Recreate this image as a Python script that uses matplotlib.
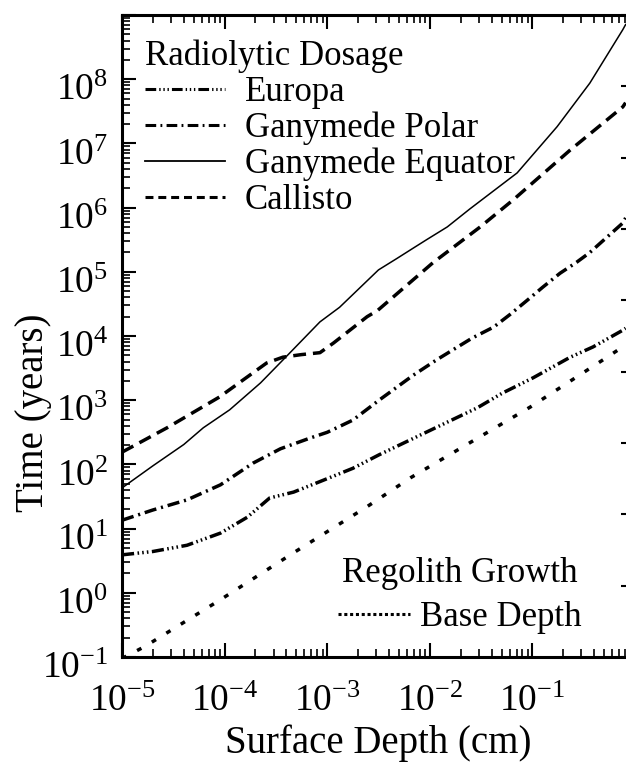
import matplotlib
matplotlib.use("Agg")
import matplotlib.pyplot as plt
from matplotlib.lines import Line2D
from matplotlib.transforms import ScaledTranslation
from matplotlib.ticker import LogLocator, NullFormatter, FixedLocator, FixedFormatter

plt.rcParams['font.family'] = ['Liberation Serif', 'DejaVu Serif']
plt.rcParams['mathtext.fontset'] = 'custom'
plt.rcParams['mathtext.rm'] = 'Liberation Serif'
plt.rcParams['mathtext.it'] = 'Liberation Serif:italic'

# surface depth (cm) and time (years)
europa_x = [1e-5, 2e-5, 4.3e-5, 9.1e-5, 1.66e-4, 2.75e-4, 4.7e-4, 8.5e-4, 1.78e-3, 3.2e-3,
            1.17e-2, 2.9e-2, 5.1e-2, 0.102, 0.234, 0.39, 0.76, 0.81]
europa_y = [3.9, 4.4, 5.5, 8.5, 15, 30, 37, 54, 87, 141,
            380, 760, 1290, 2240, 4680, 6760, 1.23e4, 1.32e4]

polar_x = [1e-5, 2e-5, 4.3e-5, 9.1e-5, 1.9e-4, 3.5e-4, 6.8e-4, 1.0e-3, 1.78e-3, 3.2e-3, 6.9e-3,
           1.17e-2, 2.6e-2, 4.2e-2, 6.0e-2, 8.9e-2, 0.126, 0.186, 0.27, 0.363, 0.76, 0.81]
polar_y = [13.5, 19.5, 28, 48, 105, 175, 257, 316, 490, 1000, 2450,
           4270, 9330, 1.38e4, 2.14e4, 3.6e4, 5.75e4, 9.5e4, 1.41e5, 2.0e5, 5.75e5, 6.9e5]

equator_x = [1e-5, 2e-5, 4e-5, 6.2e-5, 1.12e-4, 2.24e-4, 4.1e-4, 8.5e-4, 1.32e-3, 3.16e-3,
             4.8e-3, 6.9e-3, 9.3e-3, 1.48e-2, 2.45e-2, 7.1e-2, 0.174, 0.363, 0.76, 0.81]
equator_y = [43, 95, 204, 372, 708, 1860, 5000, 1.66e4, 2.8e4, 1.07e5,
             1.62e5, 2.34e5, 3.16e5, 5.0e5, 9.5e5, 3.47e6, 1.82e7, 8.7e7, 5.9e8, 7.1e8]

callisto_x = [1e-5, 2.75e-5, 8.9e-5, 2.57e-4, 3.7e-4, 5.6e-4, 8.5e-4, 1.15e-3, 2.45e-3, 3.1e-3,
              1.07e-2, 3.1e-2, 6.5e-2, 0.234, 0.76, 0.81]
callisto_y = [155, 372, 1120, 3800, 4680, 5130, 5500, 7760, 2.0e4, 2.5e4,
              1.38e5, 5.0e5, 1.32e6, 7.9e6, 3.7e7, 4.3e7]

base_x = [1e-5, 1.66e-5, 9.1e-5, 4.7e-4, 2.45e-3, 6.5e-3, 9.5e-2, 0.49, 0.81]
base_y = [0.095, 0.145, 0.78, 4.2, 22, 62, 780, 4270, 7240]

xticks = [1e-5, 1e-4, 1e-3, 1e-2, 1e-1, 1e0]
xlabels = [r'$10^{-5}$', r'$10^{-4}$', r'$10^{-3}$', r'$10^{-2}$', r'$10^{-1}$', '']
yticks = [1e-1, 1e0, 1e1, 1e2, 1e3, 1e4, 1e5, 1e6, 1e7, 1e8, 1e9]
ylabels = [r'$10^{-1}$', r'$10^{0}$', r'$10^{1}$', r'$10^{2}$', r'$10^{3}$', r'$10^{4}$',
           r'$10^{5}$', r'$10^{6}$', r'$10^{7}$', r'$10^{8}$', '']

europa_dash = (3.5, 1.0, 0.45, 0.9, 0.45, 0.9, 0.45, 1.0)
polar_dash = (3.5, 1.4, 0.6, 1.4)
callisto_dash = (3.7, 2.0)
base_dash = (1.4, 3.5)

fig = plt.figure(figsize=(6.26, 7.62), dpi=100)
ax = fig.add_axes([122/626, 105/762, 513/626, 642/762])

ax.plot(europa_x, europa_y, color='k', lw=2.5, dashes=europa_dash)
ax.plot(polar_x, polar_y, color='k', lw=2.5, dashes=polar_dash)
ax.plot(equator_x, equator_y, color='k', lw=1.1)
ax.plot(callisto_x, callisto_y, color='k', lw=2.5, dashes=callisto_dash)
ax.plot(base_x, base_y, color='k', lw=2.5, dashes=base_dash)

ax.set_xscale('log')
ax.set_yscale('log')
ax.set_xlim(1e-5, 1e0)
ax.set_ylim(1e-1, 1e9)

ax.xaxis.set_major_locator(FixedLocator(xticks))
ax.xaxis.set_major_formatter(FixedFormatter(xlabels))
ax.yaxis.set_major_locator(FixedLocator(yticks))
ax.yaxis.set_major_formatter(FixedFormatter(ylabels))
ax.xaxis.set_minor_locator(LogLocator(base=10, subs=range(2, 10), numticks=20))
ax.yaxis.set_minor_locator(LogLocator(base=10, subs=range(2, 10), numticks=20))
ax.xaxis.set_minor_formatter(NullFormatter())
ax.yaxis.set_minor_formatter(NullFormatter())

ax.tick_params(which='both', direction='in', top=True, right=False)
ax.tick_params(which='major', length=10, width=1.5, labelsize=27)
ax.tick_params(which='minor', length=5.5, width=1.2)
ax.tick_params(axis='x', which='major', pad=20)
ax.tick_params(axis='y', which='major', pad=10)
for s in ax.spines.values():
    s.set_linewidth(2.2)

# y tick labels sit a little below their ticks in the original
shift = ScaledTranslation(0, -8/100, fig.dpi_scale_trans)
for lab in ax.get_yticklabels():
    lab.set_transform(lab.get_transform() + shift)

# right-hand scale, labels fall outside the cropped figure
ax2 = ax.twinx()
ax2.set_yscale('log')
ax2.set_ylim(1e0, 1e9)
ax2.tick_params(which='both', direction='in', labelright=False)
ax2.tick_params(which='major', length=10, width=1.5)
ax2.tick_params(which='minor', length=5.5, width=1.2)

ax.set_xlabel('Surface Depth (cm)', fontsize=28)
ax.set_ylabel('Time (years)', fontsize=28)
ax.xaxis.set_label_coords(0.5, -0.105)
ax.yaxis.set_label_coords(-0.137, 0.38)

h1 = [Line2D([], [], color='k', lw=2.2, dashes=europa_dash),
      Line2D([], [], color='k', lw=2.2, dashes=polar_dash),
      Line2D([], [], color='k', lw=1.3),
      Line2D([], [], color='k', lw=2.2, dashes=(2.6, 1.6))]
leg1 = ax.legend(h1, ['Europa', 'Ganymede Polar', 'Ganymede Equator', 'Callisto'],
                 title='Radiolytic Dosage', alignment='left', loc='upper left',
                 bbox_to_anchor=(0.045, 0.962), frameon=False, fontsize=25,
                 title_fontsize=25, borderpad=0, borderaxespad=0,
                 handlelength=2.3, handletextpad=0.58, labelspacing=0.08)
ax.add_artist(leg1)

h2 = [Line2D([], [], color='k', lw=2.2, dashes=(1.0, 0.9))]
ax.legend(h2, ['Base Depth'], title='Regolith Growth', loc='upper left',
          bbox_to_anchor=(0.421, 0.155), frameon=False, fontsize=25,
          title_fontsize=25, borderpad=0, borderaxespad=0,
          handlelength=2.07, handletextpad=0.28, labelspacing=0.3)

fig.savefig('out.png', dpi=100)
